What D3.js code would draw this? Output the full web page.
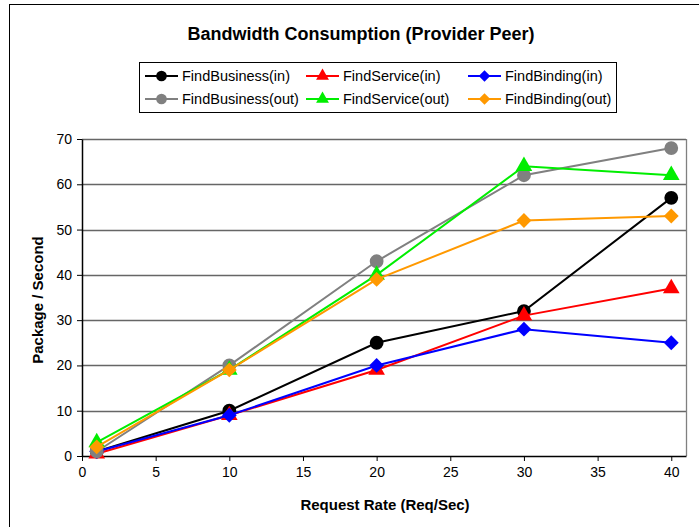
<!DOCTYPE html>
<meta charset="utf-8">
<style>
  body { margin: 0; background: #fff; }
  text { font-family: "Liberation Sans", Arial, sans-serif; fill: #000; }
  .axis text { font-size: 14px; }
  .axis path, .axis line { stroke: #000; }
</style>
<svg width="699" height="527"></svg>
<script src="https://cdnjs.cloudflare.com/ajax/libs/d3/7.8.5/d3.min.js"></script>
<script>

  var rates = [1, 10, 20, 30, 40];
  var seriesNames = ["FindBusiness(in)", "FindService(in)", "FindBinding(in)",
                     "FindBusiness(out)", "FindService(out)", "FindBinding(out)"];
  var businessIn  = [1, 10, 25, 32, 57];
  var serviceIn   = [0.5, 9, 19, 31, 37];
  var bindingIn   = [1, 9, 20, 28, 25];
  var businessOut = [1, 20, 43, 62, 68];
  var serviceOut  = [3, 19, 40, 64, 62];
  var bindingOut  = [2, 19, 39, 52, 53];
  var xTicks = [0, 5, 10, 15, 20, 25, 30, 35, 40];
  var yTicks = [0, 10, 20, 30, 40, 50, 60, 70];

  var colors = ["#000000", "#ff0000", "#0000ff", "#808080", "#00ee00", "#ff9900"];
  // square symbols get turned 45deg to make Excel-style diamonds
  var shapes = [d3.symbolCircle, d3.symbolTriangle, d3.symbolSquare,
                d3.symbolCircle, d3.symbolTriangle, d3.symbolSquare];
  var sizes = [150, 120, 110, 150, 120, 110];

  var series = [businessIn, serviceIn, bindingIn, businessOut, serviceOut, bindingOut]
    .map(function(vals, i) {
      return { name: seriesNames[i], color: colors[i], shape: shapes[i], size: sizes[i],
               rot: shapes[i] === d3.symbolSquare ? 45 : 0,
               points: vals.map(function(v, j) { return { x: rates[j], y: v }; }) };
    });

  var svg = d3.select("svg");

  // outer chart border
  svg.append("rect").attr("x", 9.5).attr("y", 4.5).attr("width", 700).attr("height", 540)
    .attr("fill", "none").attr("stroke", "#000");

  var plotL = 82, plotR = 686, plotT = 139, plotB = 456;

  var x = d3.scaleLinear().domain([0, 41]).range([plotL, plotR]);
  var y = d3.scaleLinear().domain([0, 70]).range([plotB, plotT]);

  // gridlines
  svg.append("g").selectAll("line")
    .data(yTicks.filter(function(d) { return d > 0; }))
    .enter().append("line")
    .attr("x1", plotL).attr("x2", plotR)
    .attr("y1", function(d) { return Math.round(y(d)) + 0.5; })
    .attr("y2", function(d) { return Math.round(y(d)) + 0.5; })
    .attr("stroke", "#666").attr("stroke-width", 1.3);

  // right border of plot area
  svg.append("line").attr("x1", plotR + 0.5).attr("x2", plotR + 0.5)
    .attr("y1", plotT).attr("y2", plotB).attr("stroke", "#808080").attr("stroke-width", 1.3);

  svg.append("g").attr("class", "axis")
    .attr("transform", "translate(0," + plotB + ")")
    .call(d3.axisBottom(x).tickValues(xTicks).tickSize(5).tickSizeOuter(0).tickPadding(6));

  svg.append("g").attr("class", "axis")
    .attr("transform", "translate(" + plotL + ",0)")
    .call(d3.axisLeft(y).tickValues(yTicks).tickSize(5).tickSizeOuter(0).tickPadding(5));

  svg.selectAll(".axis .domain").attr("stroke-width", 1.5);

  var line = d3.line().x(function(d) { return x(d.x); }).y(function(d) { return y(d.y); });

  var sg = svg.append("g").selectAll("g").data(series).enter().append("g");

  sg.append("path")
    .attr("d", function(d) { return line(d.points); })
    .attr("fill", "none")
    .attr("stroke", function(d) { return d.color; })
    .attr("stroke-width", 2);

  sg.each(function(s) {
    d3.select(this).selectAll(".pt").data(s.points).enter().append("path")
      .attr("class", "pt")
      .attr("transform", function(d) {
        return "translate(" + x(d.x) + "," + y(d.y) + ") rotate(" + s.rot + ")";
      })
      .attr("d", d3.symbol().type(s.shape).size(s.size))
      .attr("fill", s.color);
  });

  // title and axis labels
  svg.append("text").attr("x", 361).attr("y", 40).attr("text-anchor", "middle")
    .style("font-size", "18px").style("font-weight", "bold")
    .text("Bandwidth Consumption (Provider Peer)");

  svg.append("text").attr("x", 385).attr("y", 510).attr("text-anchor", "middle")
    .style("font-size", "15px").style("font-weight", "bold")
    .text("Request Rate (Req/Sec)");

  svg.append("text").attr("transform", "translate(43,300) rotate(-90)")
    .attr("text-anchor", "middle")
    .style("font-size", "15px").style("font-weight", "bold")
    .text("Package / Second");

  // legend
  var legend = svg.append("g");
  legend.append("rect").attr("x", 139.5).attr("y", 62.5).attr("width", 477).attr("height", 50)
    .attr("fill", "#fff").attr("stroke", "#000");

  var colX = [145, 306, 468];
  var rowY = [76, 99];

  var items = legend.selectAll(".item").data(series).enter().append("g")
    .attr("transform", function(d, i) {
      return "translate(" + colX[i % 3] + "," + rowY[Math.floor(i / 3)] + ")";
    });

  items.append("line").attr("x1", 0).attr("x2", 33).attr("y1", 0).attr("y2", 0)
    .attr("stroke", function(d) { return d.color; }).attr("stroke-width", 2);
  items.append("path")
    .attr("transform", function(d) { return "translate(16.5,0) rotate(" + d.rot + ")"; })
    .attr("d", function(d) { return d3.symbol().type(d.shape).size(d.size * 0.6)(); })
    .attr("fill", function(d) { return d.color; });
  items.append("text").attr("x", 37).attr("y", 5)
    .style("font-size", "14.5px")
    .text(function(d) { return d.name; });

</script>
